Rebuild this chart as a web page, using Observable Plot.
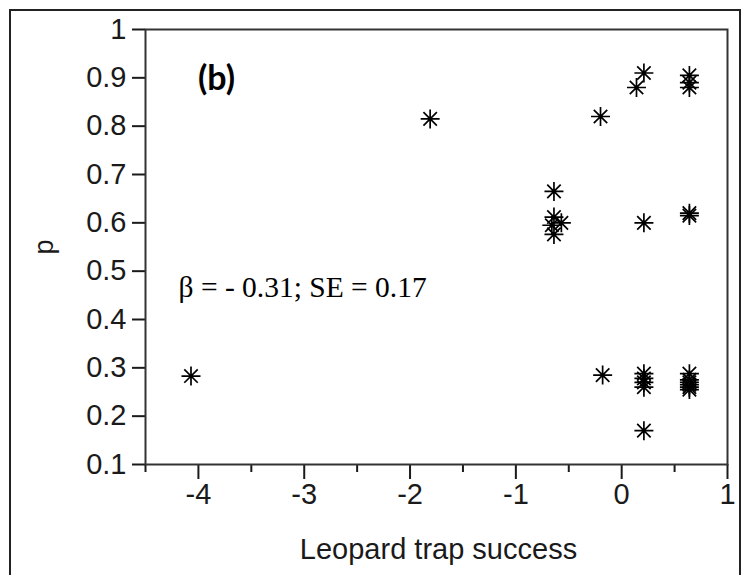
<!DOCTYPE html>
<html><head><meta charset="utf-8">
<script src="https://cdn.jsdelivr.net/npm/d3@7"></script>
<script src="https://cdn.jsdelivr.net/npm/@observablehq/plot@0.6"></script>
<style>
html,body{margin:0;padding:0;background:#fff;}
#wrap{position:relative;width:748px;height:575px;overflow:hidden;background:#fff;}
#wrap svg{position:absolute;left:0;top:0;}
#border{position:absolute;left:9px;top:9px;width:732px;height:620px;border:2px solid #222;box-sizing:border-box;z-index:2;}
</style></head><body><div id="wrap"><div id="border"></div></div>
<script>
// Data
const trapSuccess = [-4.07, -1.81, -0.20, 0.14, 0.21, 0.64, 0.64, 0.64,
  -0.64, -0.64, -0.57, -0.66, -0.64, 0.21, 0.64, 0.64,
  -0.18, 0.21, 0.21, 0.21, 0.21, 0.21, 0.64, 0.64, 0.64, 0.64, 0.64, 0.64];
const pValues = [0.283, 0.815, 0.82, 0.88, 0.91, 0.905, 0.89, 0.88,
  0.665, 0.612, 0.60, 0.595, 0.576, 0.60, 0.62, 0.615,
  0.285, 0.288, 0.278, 0.27, 0.26, 0.17, 0.288, 0.275, 0.27, 0.265, 0.26, 0.255];
const yTicks = [0.1, 0.2, 0.3, 0.4, 0.5, 0.6, 0.7, 0.8, 0.9, 1];
const xTicks = [-4, -3, -2, -1, 0, 1];
const xMinorTicks = [-4.5, -3.5, -2.5, -1.5, -0.5, 0.5];
const xLabel = "Leopard trap success";
const yLabel = "p";
const panelLabel = "(b)";
const statText = "β = - 0.31; SE = 0.17";

const points = trapSuccess.map((x, i) => ({x, y: pValues[i]}));

const star8 = {
  draw(ctx, size) {
    const r = Math.sqrt(size / Math.PI);
    const d = r * Math.SQRT1_2;
    ctx.moveTo(-r, 0); ctx.lineTo(r, 0);
    ctx.moveTo(0, -r); ctx.lineTo(0, r);
    ctx.moveTo(-d, -d); ctx.lineTo(d, d);
    ctx.moveTo(-d, d); ctx.lineTo(d, -d);
  }
};

const chart = Plot.plot({
  width: 748,
  height: 575,
  marginLeft: 145,
  marginRight: 21,
  marginTop: 29,
  marginBottom: 111,
  style: {fontFamily: "'Liberation Sans', Arial, sans-serif", background: "transparent", color: "#1a1a1a"},
  x: {domain: [-4.5, 1]},
  y: {domain: [0.1, 1]},
  marks: [
    Plot.axisY(yTicks, {tickSize: 13, tickPadding: 6, fontSize: 29, strokeWidth: 2, tickFormat: d => String(d), label: null}),
    Plot.axisX(xTicks, {tickSize: 15, tickPadding: 4, fontSize: 29, strokeWidth: 2, tickFormat: d => String(d), label: null}),
    Plot.axisX(xMinorTicks, {tickSize: 8, strokeWidth: 2, text: null, label: null}),
    Plot.frame({stroke: "#333", strokeWidth: 2}),
    Plot.dot(points, {x: "x", y: "y", symbol: star8, r: 9.5, stroke: "black", fill: "none", strokeWidth: 1.7}),
    Plot.text([panelLabel], {frameAnchor: "top-left", dx: 71, dy: 50, text: d => d, fontSize: 34, fontWeight: "bold", fontFamily: "Lato, 'Open Sans', sans-serif", textAnchor: "middle", lineAnchor: "middle", fill: "#000"}),
    Plot.text([statText], {frameAnchor: "top-left", dx: 33, dy: 267, text: d => d, fontSize: 29.5, fontFamily: "'Liberation Serif', 'Times New Roman', serif", textAnchor: "start", lineAnchor: "bottom", fill: "#000"}),
    Plot.text([yLabel], {frameAnchor: "left", dx: -101, rotate: -90, text: d => d, fontSize: 27, textAnchor: "middle", lineAnchor: "middle", fill: "#1a1a1a"}),
    Plot.text([xLabel], {frameAnchor: "bottom", dx: 2, dy: 94, text: d => d, fontSize: 29, textAnchor: "middle", lineAnchor: "bottom", fill: "#1a1a1a"})
  ]
});
document.getElementById("wrap").insertBefore(chart, document.getElementById("border"));
</script>
</body></html>
